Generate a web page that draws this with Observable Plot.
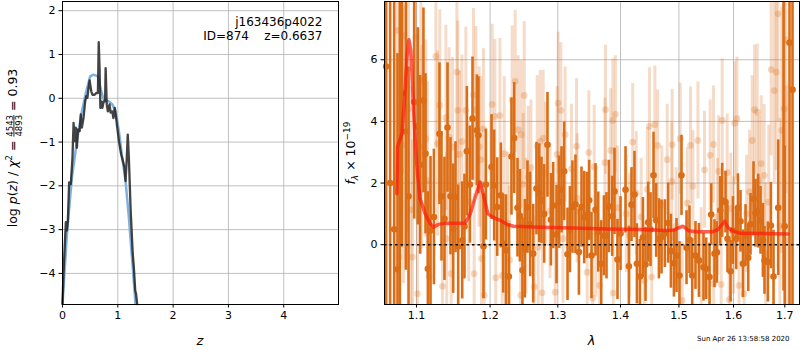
<!DOCTYPE html>
<html><head><meta charset="utf-8">
<script src="https://cdn.jsdelivr.net/npm/d3@7"></script>
<script src="https://cdn.jsdelivr.net/npm/@observablehq/plot@0.6"></script>
<style>
body{margin:0;background:#fff;font-family:"DejaVu Sans",sans-serif;}
#fig{position:relative;width:800px;height:350px;overflow:hidden;background:#fff}
#left{position:absolute;left:0;top:0}
#right{position:absolute;left:340px;top:0}
#stamp{position:absolute;left:697px;top:335px;font-size:7px;white-space:nowrap;font-family:"DejaVu Sans",sans-serif}
</style></head><body>
<div id="fig"><div id="left"></div><div id="right"></div><div id="stamp">Sun Apr 26 13:58:58 2020</div></div>
<script>
// ---------- left panel data: [z, log p(z)] ----------
const pzRaw = [
[0,-4.7],[0.018,-4.0],[0.06,-2.83],[0.08,-3.02],[0.097,-2.8],[0.12,-1.92],[0.15,-1.96],[0.18,-1.36],
[0.2,-0.56],[0.22,-0.98],[0.24,-0.67],[0.26,-1.13],[0.28,-0.71],[0.31,-0.75],[0.33,-0.37],[0.35,-0.67],
[0.38,-0.45],[0.41,-0.07],[0.43,0.05],[0.45,0.01],[0.47,0.23],[0.49,0.41],[0.52,0.16],[0.54,0.08],
[0.58,0.08],[0.61,0.12],[0.64,0.12],[0.655,1.28],[0.67,0.69],[0.685,-0.22],[0.70,-0.07],[0.72,-0.22],
[0.745,-0.07],[0.77,-0.07],[0.78,0.69],[0.80,-0.14],[0.82,-0.3],[0.85,-0.14],[0.87,-0.33],[0.90,-0.3],
[0.92,-0.45],[0.945,-0.22],[0.97,-0.45],[0.99,-0.67],[1.02,-0.98],[1.06,-1.28],[1.10,-1.47],[1.12,-1.58],
[1.14,-1.89],[1.16,-1.43],[1.18,-0.83],[1.20,-1.36],[1.23,-2.49],[1.27,-3.55],[1.29,-3.86],[1.315,-4.39],
[1.33,-4.47],[1.35,-4.7]
];
const pzSmooth = [
[0,-4.7],[0.08,-3.1],[0.17,-1.81],[0.26,-0.98],[0.35,-0.3],[0.43,0.16],[0.50,0.5],[0.56,0.54],
[0.64,0.5],[0.685,0.23],[0.745,-0.03],[0.84,-0.07],[0.90,-0.14],[0.96,-0.3],[1.02,-0.75],[1.08,-1.36],
[1.14,-1.89],[1.20,-2.72],[1.26,-3.7],[1.32,-4.7]
];
const zTicks = [0,1,2,3,4];
const pTicks = [-4,-3,-2,-1,0,1,2];
const annotation = ["j163436p4022", "ID=874\u00a0\u00a0\u00a0\u00a0z=0.6637"];

// ---------- right panel data: [lambda, flux, error] ----------
const darkPts = [
[1.0613,5.78,9],[1.0663,2.0,9],[1.0714,0.5,8],[1.0756,-0.8,7],[1.0786,2.44,5.5],[1.0812,4.92,5],
[1.0863,3.67,4.5],[1.0897,1.57,4.2],[1.0970,4.63,3.8],[1.1018,3.84,3.2],[1.1048,2.59,2.9],[1.1091,4.68,3.0],
[1.1118,2.95,2.6],[1.1149,-0.78,2.5],[1.1184,0.46,2.4],[1.1229,0.9,2.2],[1.1303,3.6,2.3],[1.1330,1.57,2.1],
[1.1370,0.84,2.0],[1.1411,3.8,2.1],[1.1451,1.57,1.9],[1.1488,0.52,2.1],[1.1519,1.54,1.8],[1.1556,-0.06,2.0],
[1.1611,0.14,1.9],[1.1642,0.59,1.7],[1.1675,3.03,2.1],[1.1717,1.95,1.9],[1.1753,4.09,2.0],[1.1814,3.71,1.8],
[1.1836,3.55,1.9],[1.1907,-0.05,1.7],[1.1940,1.95,1.8],[1.2020,2.52,1.7],[1.2058,1.92,1.8],[1.2101,1.22,1.6],
[1.2154,1.6,1.7],[1.2187,0.03,1.6],[1.2226,-0.18,1.8],[1.2269,-1.03,1.7],[1.2307,2.86,1.9],[1.2347,3.46,1.8],
[1.2395,1.2,1.6],[1.2430,0.94,1.5],[1.2468,-0.83,1.7],[1.2504,-0.13,1.6],[1.2542,1.22,1.5],[1.2582,0.66,1.7],
[1.2627,-0.29,1.6],[1.2676,1.82,1.5],[1.2717,1.67,1.6],[1.2751,1.44,1.4],[1.2792,1.0,1.6],[1.2842,3.24,1.7],
[1.2894,0.81,1.5],[1.2929,1.27,1.4],[1.2980,0.33,1.6],[1.3021,1.38,1.5],[1.3057,1.78,1.4],[1.3098,2.38,1.6],
[1.3150,-0.31,1.5],[1.3187,0.49,1.4],[1.3227,1.22,1.5],[1.3274,1.31,1.6],[1.3328,-0.24,1.4],[1.3369,1.22,1.3],
[1.3412,0.88,1.5],[1.3455,0.95,1.4],[1.3491,1.44,1.3],[1.3528,-0.35,1.4],[1.3592,1.13,1.5],[1.3636,0.41,1.3],
[1.3684,-0.62,1.4],[1.3728,0.29,1.3],[1.3770,0.29,1.4],[1.3809,1.24,1.5],[1.3863,0.92,1.3],[1.3901,1.73,1.4],
[1.3950,-0.48,1.3],[1.4000,0.36,1.2],[1.4083,1.78,1.4],[1.4139,-0.7,1.3],[1.4183,1.3,1.2],[1.4233,1.63,1.4],
[1.4274,-0.62,1.3],[1.4324,-1.03,1.2],[1.4375,0.23,1.3],[1.4420,-0.64,1.2],[1.4466,0.73,1.3],[1.4505,0.49,1.2],
[1.4557,2.25,1.4],[1.4603,0.79,1.2],[1.4650,0.19,1.3],[1.4695,0.25,1.2],[1.4754,0.36,1.1],[1.4812,0.7,1.3],
[1.4859,-0.21,1.2],[1.4912,-0.6,1.1],[1.4958,-0.35,1.2],[1.5011,-1.0,1.1],[1.5046,2.25,1.3],[1.5136,-0.1,1.2],
[1.5189,0.16,1.1],[1.5238,-1.0,1.2],[1.5297,-0.35,1.1],[1.5359,-0.51,1.2],[1.5443,-0.73,1.1],[1.5492,-0.78,1.0],
[1.5553,-1.05,1.1],[1.5584,0.98,1.0],[1.5645,-0.29,1.1],[1.5689,-0.25,1.0],[1.5751,1.11,1.1],[1.5788,1.44,1.2],
[1.5850,1.38,1.0],[1.5887,0.19,1.1],[1.5944,-0.86,1.0],[1.5989,0.46,1.1],[1.6051,0.19,1.0],[1.6084,1.2,1.1],
[1.6133,0.76,1.0],[1.6179,-0.62,1.1],[1.6229,0.3,1.0],[1.6281,-0.42,1.1],[1.6325,0.66,1.0],[1.6383,1.49,1.2],
[1.6422,1.02,1.1],[1.6474,1.09,1.2],[1.6519,0.79,1.1],[1.6566,0.14,1.2],[1.6597,-0.51,1.1],[1.6664,-0.56,1.3],
[1.6723,0.62,1.4],[1.6775,-1.03,1.5],[1.6868,1.2,2.2],[1.6975,8.5,10],[1.6998,0.6,2.6],[1.7095,6.55,9],
[1.7156,5.03,9]
];
const lightPts = [
[1.0756,6.95,5],[1.0777,-0.4,5],[1.0819,6.79,4.5],[1.0832,3.24,4.5],[1.0897,4.4,4],[1.0927,1.13,4],
[1.0948,-0.4,3.8],[1.0992,6.73,3.6],[1.1013,-1.59,3.5],[1.1057,5.33,3.4],[1.1070,3.17,3.3],[1.1123,3.44,3.2],
[1.1144,2.09,3.2],[1.1166,-1.03,3.1],[1.1255,6.11,3.0],[1.1277,3.28,3.0],[1.1308,4.52,3.1],[1.1343,-1.35,2.9],
[1.1389,4.12,3.0],[1.1400,0.2,2.8],[1.1433,3.49,2.9],[1.1460,-0.94,2.8],[1.1478,3.17,2.9],[1.1538,5.6,2.8],
[1.1549,4.36,2.9],[1.1574,2.93,2.7],[1.1607,3.35,2.8],[1.1661,4.36,2.7],[1.1700,1.4,2.6],[1.1767,4.86,2.8],
[1.1776,-0.94,2.6],[1.1800,4.38,2.7],[1.1846,3.17,2.6],[1.1870,2.76,2.7],[1.1878,-0.45,2.5],[1.1907,3.76,2.6],
[1.1917,-1.64,2.5],[1.2030,4.55,2.6],[1.2068,4.16,2.5],[1.2080,-1.07,2.4],[1.2140,4.19,2.5],[1.2173,-1.0,2.4],
[1.2202,2.95,2.5],[1.2250,0.7,2.3],[1.2280,-0.5,2.4],[1.2317,4.7,2.4],[1.2361,5.3,2.3],[1.2405,3.73,2.4],
[1.2442,-1.64,2.3],[1.2449,3.57,2.4],[1.2479,1.96,2.3],[1.2494,4.84,2.4],[1.2520,0.6,2.2],[1.2553,2.19,2.3],
[1.2593,2.5,2.2],[1.2642,-1.37,2.3],[1.2687,3.19,2.3],[1.2702,-0.08,2.2],[1.2732,3.35,2.3],[1.2762,-1.56,2.2],
[1.2777,3.46,2.2],[1.2815,2.32,2.3],[1.2880,1.1,2.2],[1.2960,-1.54,2.1],[1.2990,2.93,2.2],[1.3005,4.59,2.3],
[1.3047,4.36,2.2],[1.3080,0.2,2.1],[1.3113,3.57,2.2],[1.3211,2.46,2.1],[1.3290,3.19,2.2],[1.3300,1.5,2.1],
[1.3459,-0.89,2.1],[1.3486,2.99,2.0],[1.3547,-1.73,2.1],[1.3571,2.52,2.0],[1.3600,0.4,2.1],[1.3658,-1.32,2.0],
[1.3744,2.66,2.1],[1.3754,4.38,2.1],[1.3839,3.06,2.0],[1.3874,4.03,2.0],[1.3879,-1.57,2.0],[1.3916,4.23,1.9],
[1.3950,1.2,2.0],[1.4094,1.0,1.9],[1.4150,0.3,2.0],[1.4203,3.33,1.9],[1.4262,1.67,2.0],[1.4346,0.9,1.9],
[1.4397,-1.16,1.9],[1.4450,1.8,2.0],[1.4487,3.84,1.9],[1.4525,-1.05,1.9],[1.4580,3.9,1.9],[1.4629,3.22,1.8],
[1.4700,1.3,1.9],[1.4794,2.76,1.8],[1.4873,2.05,1.9],[1.4882,3.24,1.8],[1.4950,0.6,1.9],[1.5024,3.44,1.8],
[1.5060,-1.81,1.9],[1.5148,1.35,1.8],[1.5207,3.22,1.9],[1.5250,1.9,1.8],[1.5341,3.38,1.9],[1.5400,-0.6,1.8],
[1.5461,2.43,1.9],[1.5566,2.9,1.8],[1.5626,3.25,1.9],[1.5630,-1.27,1.8],[1.5700,0.9,1.9],[1.5722,2.38,1.8],
[1.5769,-1.29,1.9],[1.5788,4.03,2.0],[1.5881,2.34,1.9],[1.5919,-1.78,1.9],[1.5948,1.17,1.8],[1.6000,0.3,1.9],
[1.6023,3.94,2.0],[1.6065,4.09,2.0],[1.6106,-1.32,1.9],[1.6202,-1.59,2.0],[1.6250,1.0,1.9],[1.6304,1.71,2.0],
[1.6357,3.38,2.1],[1.6403,4.38,2.1],[1.6455,4.3,2.2],[1.6490,2.09,2.1],[1.6533,2.63,2.2],[1.6591,2.25,2.3],
[1.6620,-0.3,2.3],[1.6680,1.38,2.5],[1.6729,5.68,2.8],[1.6790,5.0,3.0],[1.6830,5.6,3.2],[1.6863,7.49,3.5],
[1.6900,0.6,3.5],[1.6936,3.71,4.0],[1.6986,4.41,4.5],[1.7022,6.65,5.0],[1.7036,0.14,5.0]
];
const modelLine = [
[1.0748,1.65],[1.0756,3.17],[1.0812,3.6],[1.0845,4.68],[1.0876,6.08],[1.0902,6.65],[1.0927,6.3],
[1.0953,4.9],[1.0983,3.38],[1.1013,2.3],[1.1048,1.49],[1.1114,1.0],[1.1180,0.68],[1.1223,0.57],
[1.1290,0.66],[1.1403,0.7],[1.1538,0.7],[1.1652,0.7],[1.1721,1.0],[1.1790,1.54],[1.1860,2.03],
[1.1907,1.6],[1.1969,1.0],[1.2048,0.88],[1.2144,0.79],[1.2241,0.66],[1.2337,0.6],[1.2732,0.57],
[1.3243,0.54],[1.3776,0.51],[1.4329,0.49],[1.4777,0.46],[1.4912,0.48],[1.5071,0.6],[1.5178,0.45],
[1.5310,0.42],[1.5615,0.42],[1.5713,0.5],[1.5831,0.76],[1.5900,0.55],[1.5989,0.45],[1.6128,0.37],
[1.7070,0.35]
];
const lamTicks = [1.1,1.2,1.3,1.4,1.5,1.6,1.7];
const fTicks = [0,2,4,6];

// ---------- drawing ----------
const Z_DOMAIN = [0, 4.99], P_DOMAIN = [-4.71, 2.21];
const LAM_DOMAIN = [1.0592, 1.7298], F_DOMAIN = [-1.94, 7.89];
const ORANGE = "#db6d17";
const GRID = {stroke: "#b0b0b0", strokeWidth: 0.8};
const minus = d => d < 0 ? "\u2212" + Math.abs(d) : String(d);
const baseStyle = {fontFamily: "DejaVu Sans", fontSize: "11px", color: "black", background: "white", overflow: "visible"};

const left = Plot.plot({
  width: 340, height: 350, marginLeft: 62, marginRight: 2, marginTop: 1, marginBottom: 46,
  style: baseStyle,
  x: {domain: Z_DOMAIN, ticks: zTicks, tickFormat: minus, label: null, tickSize: 3.5, tickPadding: 3.5},
  y: {domain: P_DOMAIN, ticks: pTicks, tickFormat: minus, label: null, tickSize: 3.5, tickPadding: 3.5},
  marks: [
    Plot.ruleX(zTicks, GRID),
    Plot.ruleY(pTicks, GRID),
    Plot.line(pzSmooth, {x: d => d[0], y: d => d[1], stroke: "#80b1dc", strokeWidth: 2.5}),
    Plot.line(pzRaw, {x: d => d[0], y: d => d[1], stroke: "#222", strokeWidth: 2.3, strokeOpacity: 0.85}),
    Plot.frame({stroke: "black"}),
    Plot.text([annotation.join("\n")], {frameAnchor: "top-right", dx: -16, dy: 14, lineAnchor: "top", lineHeight: 1.2, textAnchor: "end", fontSize: 12, fill: "black"})
  ]
});
document.getElementById("left").appendChild(left);

const clampY = v => Math.max(F_DOMAIN[0], Math.min(F_DOMAIN[1], v));
const inside = d => d[1] >= F_DOMAIN[0] && d[1] <= F_DOMAIN[1];
const right = Plot.plot({
  width: 460, height: 350, marginLeft: 44, marginRight: 1, marginTop: 1, marginBottom: 46,
  style: baseStyle,
  x: {type: "log", domain: LAM_DOMAIN, ticks: lamTicks, tickFormat: d => d.toFixed(1), label: null, tickSize: 3.5, tickPadding: 3.5},
  y: {domain: F_DOMAIN, ticks: fTicks, tickFormat: minus, label: null, tickSize: 3.5, tickPadding: 3.5},
  marks: [
    Plot.ruleX(lamTicks, GRID),
    Plot.ruleY(fTicks, GRID),
    Plot.ruleX(lightPts, {x: d => d[0], y1: d => clampY(d[1] - d[2]), y2: d => clampY(d[1] + d[2]), stroke: ORANGE, strokeOpacity: 0.24, strokeWidth: 3}),
    Plot.dot(lightPts.filter(inside), {x: d => d[0], y: d => d[1], r: 3.4, fill: ORANGE, fillOpacity: 0.26, stroke: "none"}),
    Plot.ruleX(darkPts, {x: d => d[0], y1: d => clampY(d[1] - d[2]), y2: d => clampY(d[1] + d[2]), stroke: ORANGE, strokeWidth: 2.6}),
    Plot.dot(darkPts.filter(inside), {x: d => d[0], y: d => d[1], r: 3.3, fill: ORANGE, stroke: "none"}),
    Plot.ruleY([0], {stroke: "#111", strokeWidth: 1.5, strokeDasharray: "2.5,3"}),
    Plot.line(modelLine, {x: d => d[0], y: d => d[1], stroke: "#ff1a0a", strokeOpacity: 0.7, strokeWidth: 3.5, curve: "linear"}),
    Plot.frame({stroke: "black"})
  ]
});
document.getElementById("right").appendChild(right);

// ---------- axis labels (real text) ----------
function addParts(t, parts) {
  for (const p of parts) {
    const s = t.append("tspan").text(p.t);
    if (p.i) s.attr("font-style", "italic");
    if (p.fs) s.attr("font-size", p.fs);
    if (p.dy !== undefined) s.attr("dy", p.dy);
    if (p.dx !== undefined) s.attr("dx", p.dx);
    if (p.u) s.attr("text-decoration", "underline");
  }
}
d3.select(left).append("text").attr("x", 200).attr("y", 345).attr("text-anchor", "middle")
  .attr("font-size", 13).attr("font-family", "DejaVu Sans").attr("font-style", "italic").attr("fill", "black").text("z");
d3.select(right).append("text").attr("x", 251.5).attr("y", 345).attr("text-anchor", "middle")
  .attr("font-size", 13).attr("font-family", "DejaVu Sans").attr("font-style", "italic").attr("fill", "black").text("\u03bb");

// left y label: log p(z) / chi^2 = 4543/4893 = 0.93
{
  const t = d3.select(left).append("text")
    .attr("font-family", "DejaVu Sans").attr("font-size", 12.5).attr("fill", "black")
    .attr("text-anchor", "middle").attr("transform", "translate(17,148) rotate(-90)");
  addParts(t, [
    {t: "log "}, {t: "p", i: true}, {t: "("}, {t: "z", i: true}, {t: ") / "}, {t: "\u03c7", i: true},
    {t: "2", fs: 8.5, dy: -5}, {t: "\u00a0=\u00a0", fs: 12.5, dy: 5},
    {t: "4543", fs: 8.5, dy: -4.5, u: true}, {t: "4893", fs: 8.5, dx: -21.6, dy: 9.5},
    {t: "\u00a0=\u00a00.93", fs: 12.5, dy: -5}
  ]);
}
// right y label: f_lambda x 10^-19
{
  const t = d3.select(right).append("text")
    .attr("font-family", "DejaVu Sans").attr("font-size", 12.5).attr("fill", "black")
    .attr("text-anchor", "middle").attr("transform", "translate(15,153) rotate(-90)");
  addParts(t, [
    {t: "f", i: true}, {t: "\u03bb", i: true, fs: 9, dy: 3},
    {t: "\u00a0\u00d7\u00a010", fs: 12.5, dy: -3}, {t: "\u221219", fs: 9, dy: -5}
  ]);
}
</script>
</body></html>
